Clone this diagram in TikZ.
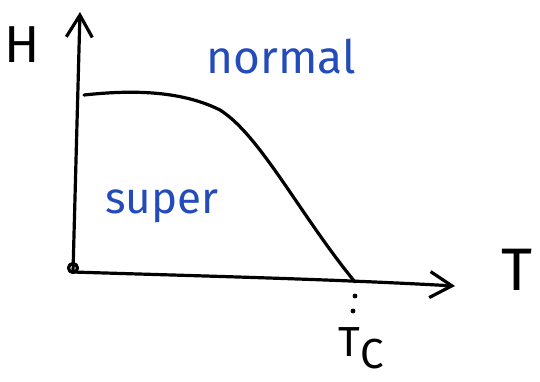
\documentclass[tikz,border=0pt]{standalone}
\usepackage{fontspec}
\setmainfont{Fira Sans}
\usetikzlibrary{arrows.meta}
\definecolor{penblue}{RGB}{35,75,185}
\tikzset{
  ink/.style={line width=3.2pt, line cap=round, line join=round},
  handlabel/.style={inner sep=0pt, font=\fontsize{#1}{#1}\selectfont},
  phaselabel/.style={handlabel=#1, text=penblue}
}

\begin{document}
\begin{tikzpicture}[x=1pt, y=-1pt, >={Straight Barb[length=22pt,width=26pt,line width=3.2pt]}]
    \useasboundingbox (0,0) rectangle (540,381);

    % axes
    \coordinate (O) at (73,272);
    \coordinate (Htop) at (80,12);
    \coordinate (Tend) at (455,286);
    \coordinate (Tc) at (355,282);
    \draw[ink,->] (O) -- (Htop);
    \draw[ink,->] (O) .. controls (200,276) and (330,279) .. (Tend);
    \draw[ink] (O) ++(0,-4) circle (4.5);

    % phase boundary
    \coordinate (Hc) at (84,95);
    \draw[ink] (Hc) .. controls (130,90) and (180,90) .. (220,110)
        .. controls (260,135) and (300,215) .. (Tc);
    \fill (355,296) circle (2.4);
    \fill (353,311) circle (2.4);

    % labels
    \node[handlabel=52] (hlabel) at (22,45) {H};
    \node[handlabel=60] (tlabel) at (517,270) {T};
    \node[handlabel=42] (tclabel) at (361,348) {T\raisebox{-12pt}{C}};
    \node[phaselabel=46] (normal) at (281,57) {normal};
    \node[phaselabel=44] (super) at (162,206) {super};
\end{tikzpicture}
\end{document}
